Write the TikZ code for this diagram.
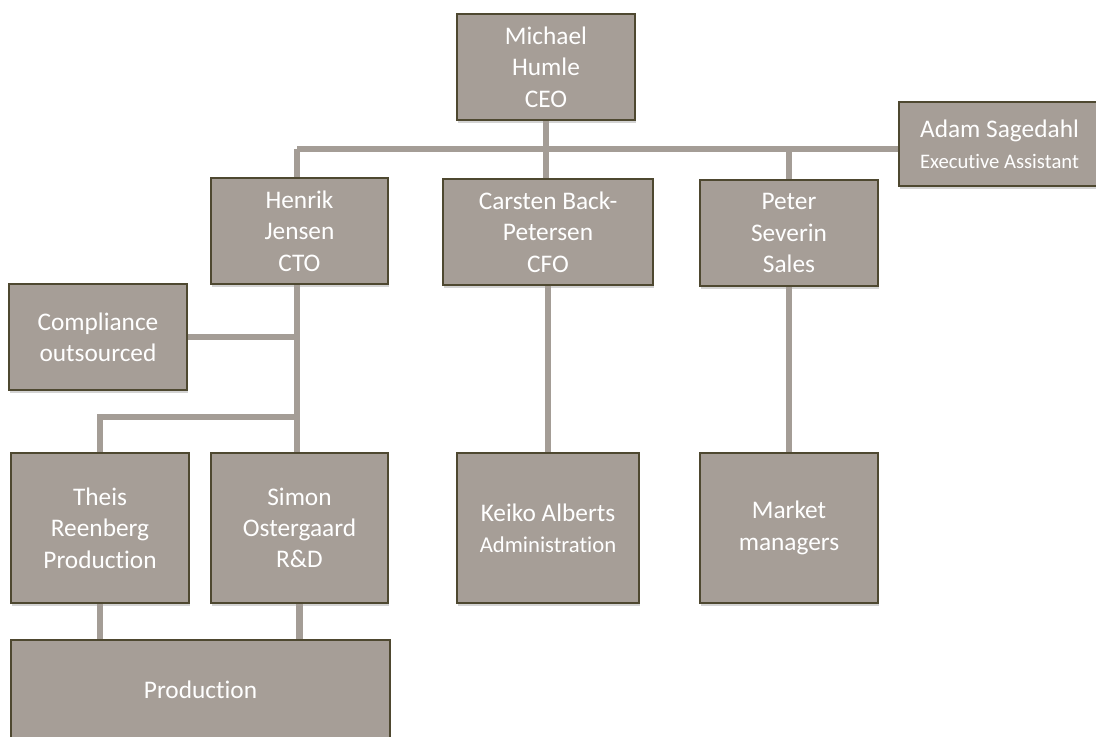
\documentclass[tikz,border=0pt]{standalone}
\usepackage{fontspec}
\setmainfont{Carlito}[Ligatures=NoCommon]
\usetikzlibrary{shadows}
\definecolor{boxfill}{RGB}{166,158,151}
\definecolor{boxline}{RGB}{78,72,48}
\definecolor{linkline}{RGB}{164,157,150}
\tikzset{
orgbox/.style={rectangle,draw=boxline,fill=boxfill,line width=1.4pt,text=white,align=center,
  font=\fontsize{19}{23.5}\selectfont,inner sep=2pt,
  drop shadow={opacity=0.35,shadow xshift=1pt,shadow yshift=-2pt}},
link/.style={draw=linkline,line width=5pt}
}
\begin{document}
\begin{tikzpicture}[x=0.75pt,y=-0.75pt]
\useasboundingbox (0,0) rectangle (1096,736);
\node[orgbox,minimum width=133.5pt,minimum height=79.5pt] (ceo) at (546,67) {Michael\\Humle\\CEO};
\node[orgbox,minimum width=150.75pt,minimum height=63pt] (assist) at (999.5,144) {Adam Sagedahl\\{\fontsize{15.5}{19}\selectfont Executive Assistant}};
\node[orgbox,minimum width=132.75pt,minimum height=79.5pt] (cto) at (299.5,231) {Henrik\\Jensen\\CTO};
\node[orgbox,minimum width=157.5pt,minimum height=79.5pt] (cfo) at (548,232) {Carsten Back-\\Petersen\\CFO};
\node[orgbox,minimum width=133.5pt,minimum height=79.5pt] (sales) at (789,233) {Peter\\Severin\\Sales};
\node[orgbox,minimum width=133.5pt,minimum height=79.5pt] (comp) at (98,337) {Compliance\\outsourced};
\node[orgbox,minimum width=133.5pt,minimum height=112.5pt] (theis) at (100,528) {Theis\\Reenberg\\Production};
\node[orgbox,minimum width=132.75pt,minimum height=112.5pt] (rd) at (299.5,528) {Simon\\Ostergaard\\R\&D};
\node[orgbox,minimum width=136.5pt,minimum height=112.5pt] (admin) at (548,528) {Keiko Alberts\\{\fontsize{17}{22}\selectfont Administration}};
\node[orgbox,minimum width=133.5pt,minimum height=112.5pt] (market) at (789,528) {Market\\managers};
\node[orgbox,minimum width=284.25pt,minimum height=75pt] (prod) at (200.5,690) {Production};

\coordinate (bus) at (297,149);
\coordinate (ctobus) at (297,417);
\draw[link] (bus) -- (assist.west |- bus);
\draw[link] (ceo.south) -- (ceo.south |- cfo.north);
\draw[link] (bus) -- (bus |- cto.north);
\draw[link] (sales.north |- bus) -- (sales.north);
\draw[link] (bus |- cto.south) -- (bus |- rd.north);
\draw[link] (comp.east) -- (bus |- comp.east);
\draw[link] (ctobus) -| (theis.north);
\draw[link] (cfo.south) -- (admin.north);
\draw[link] (sales.south) -- (market.north);
\draw[link] (theis.south) -- (theis.south |- prod.north);
\draw[link] (rd.south) -- (rd.south |- prod.north);

\end{tikzpicture}
\end{document}
